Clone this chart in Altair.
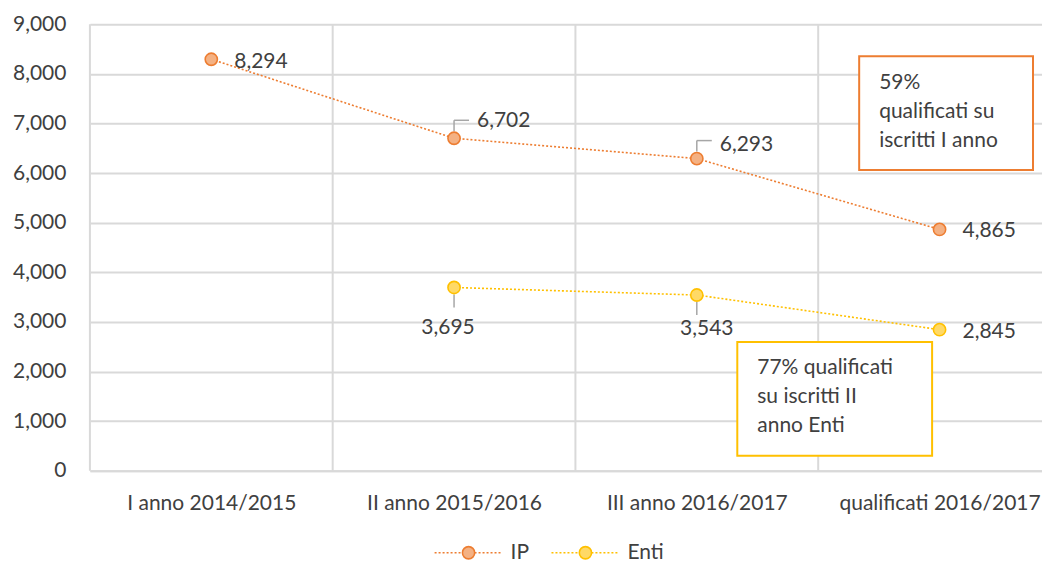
import json
import altair as alt
import pandas as pd

categories = ["I anno 2014/2015", "II anno 2015/2016", "III anno 2016/2017", "qualificati 2016/2017"]
series = ["IP", "Enti"]
ip_values = [8294, 6702, 6293, 4865]
enti_values = [None, 3695, 3543, 2845]
y_ticks = [0, 1000, 2000, 3000, 4000, 5000, 6000, 7000, 8000, 9000]
note_ip = ["59%", "qualificati su", "iscritti I anno"]
note_enti = ["77% qualificati", "su iscritti II", "anno Enti"]

line_colors = ["#ED7D31", "#FFC000"]
fill_colors = ["#F4B183", "#FFD966"]

rows = []
for i, c in enumerate(categories):
    for s, vals in zip(series, [ip_values, enti_values]):
        if vals[i] is not None:
            rows.append({"idx": i, "category": c, "series": s, "value": vals[i]})
df = pd.DataFrame(rows)
bounds = pd.DataFrame({"idx": [i - 0.5 for i in range(len(categories))]})
one = pd.DataFrame({"k": [0]})

W, H = 953, 447
FONT = "Lato"
TXT = "#404040"
GRID = "#D9D9D9"
FS = 21

xscale = alt.Scale(domain=[-0.5, 3.422], nice=False, zero=False)
yscale = alt.Scale(domain=[0, 9000], nice=False)

x_axis = alt.Axis(values=list(range(len(categories))),
                  labelExpr=json.dumps(categories) + "[datum.value]",
                  grid=False, ticks=False, domain=True, domainColor=GRID,
                  domainWidth=2, labelPadding=22, labelFontSize=FS, labelLimit=400,
                  labelColor=TXT, labelFont=FONT, labelFontWeight="normal")
y_axis = alt.Axis(values=y_ticks, labelExpr="format(datum.value, ',')", grid=True, gridColor=GRID,
                  gridWidth=2, domain=False, ticks=False, labelPadding=24,
                  labelFontSize=FS, labelColor=TXT, labelFont=FONT,
                  labelFontWeight="normal", minExtent=77, maxExtent=77)

x_enc = alt.X("idx:Q", scale=xscale, title=None, axis=x_axis)
y_enc = alt.Y("value:Q", scale=yscale, title=None, axis=y_axis)

color_scale = alt.Scale(domain=series, range=line_colors)
fill_scale = alt.Scale(domain=series, range=fill_colors)

vgrid = alt.Chart(bounds).mark_rule(color=GRID, strokeWidth=2).encode(
    x=x_enc, y=alt.Y(datum=0, scale=yscale, title=None, axis=y_axis), y2=alt.Y2(datum=9000))

lines = alt.Chart(df).mark_line(strokeDash=[2, 2], strokeWidth=1.6).encode(
    x=x_enc, y=y_enc,
    color=alt.Color("series:N", scale=color_scale, legend=None),
    detail="series:N")

points = alt.Chart(df).mark_point(shape="circle", filled=True, size=150, strokeWidth=1.6, opacity=1).encode(
    x=x_enc, y=y_enc,
    fill=alt.Fill("series:N", scale=fill_scale, legend=None),
    stroke=alt.Stroke("series:N", scale=color_scale, legend=None))


def lab(s, idxs, dx, dy, align="left"):
    return alt.Chart(df).transform_filter(
        alt.datum.series == s
    ).transform_filter(
        alt.FieldOneOfPredicate(field="idx", oneOf=idxs)
    ).mark_text(align=align, baseline="middle", dx=dx, dy=dy, font=FONT,
                fontSize=FS, color=TXT).encode(
        x=x_enc, y=y_enc, text=alt.Text("value:Q", format=","))


labels = [
    lab("IP", [0], 23, 3),
    lab("IP", [3], 23, 2),
    lab("Enti", [3], 23, 2),
    lab("IP", [1], 23, -17),
    lab("IP", [2], 23, -14),
    lab("Enti", [1], -6, 41, "center"),
    lab("Enti", [2], 10, 34, "center"),
]


def leader_filter(ch, s):
    return ch.transform_filter(alt.datum.series == s).transform_filter(
        alt.FieldOneOfPredicate(field="idx", oneOf=[1, 2]))


LC = "#A6A6A6"
lead_ip_v = leader_filter(alt.Chart(df), "IP").mark_rule(color=LC, strokeWidth=1.5, yOffset=-7, y2Offset=-18).encode(
    x=x_enc, y=y_enc, y2="value:Q")
lead_ip_h = leader_filter(alt.Chart(df), "IP").mark_rule(color=LC, strokeWidth=1.5, yOffset=-18, x2Offset=15).encode(
    x=x_enc, x2="idx:Q", y=y_enc)
lead_en_v = leader_filter(alt.Chart(df), "Enti").mark_rule(color=LC, strokeWidth=1.5, yOffset=7, y2Offset=20).encode(
    x=x_enc, y=y_enc, y2="value:Q")


def box(x0, x1, y0, y1, col):
    return alt.Chart(one).mark_rect(fill="white", stroke=col, strokeWidth=2).encode(
        x=alt.value(x0), x2=alt.value(x1), y=alt.value(y0), y2=alt.value(y1))


def note(lines_, x0, y0, step=29):
    out = []
    for k, t in enumerate(lines_):
        out.append(alt.Chart(one).mark_text(text=t, align="left", baseline="middle", font=FONT,
                                            fontSize=FS, color=TXT).encode(
            x=alt.value(x0), y=alt.value(y0 + k * step)))
    return out


ann = [box(770, 944, 32, 146, line_colors[0])] + note(note_ip, 790, 59) + \
      [box(648, 843, 318, 432, line_colors[1])] + note(note_enti, 668, 344)

leg = []
for i, s in enumerate(series):
    x0 = 345 + i * 117
    leg.append(alt.Chart(one).mark_rule(color=line_colors[i], strokeDash=[2, 2], strokeWidth=1.6).encode(
        x=alt.value(x0), x2=alt.value(x0 + 66), y=alt.value(529)))
    leg.append(alt.Chart(one).mark_point(shape="circle", filled=True, size=150, strokeWidth=1.6,
                                         fill=fill_colors[i], stroke=line_colors[i], opacity=1).encode(
        x=alt.value(x0 + 34), y=alt.value(529)))
    leg.append(alt.Chart(one).mark_text(text=s, align="left", baseline="middle", font=FONT,
                                        fontSize=FS, color=TXT).encode(
        x=alt.value(x0 + 76), y=alt.value(529)))

chart = alt.layer(vgrid, lines, lead_ip_v, lead_ip_h, lead_en_v, points, *labels, *ann, *leg).properties(
    width=W, height=H, padding={"left": 4, "top": 5, "right": 0, "bottom": 0}
).configure_view(stroke=None)

chart.save("out.html", embed_options={"renderer": "svg", "actions": False})
